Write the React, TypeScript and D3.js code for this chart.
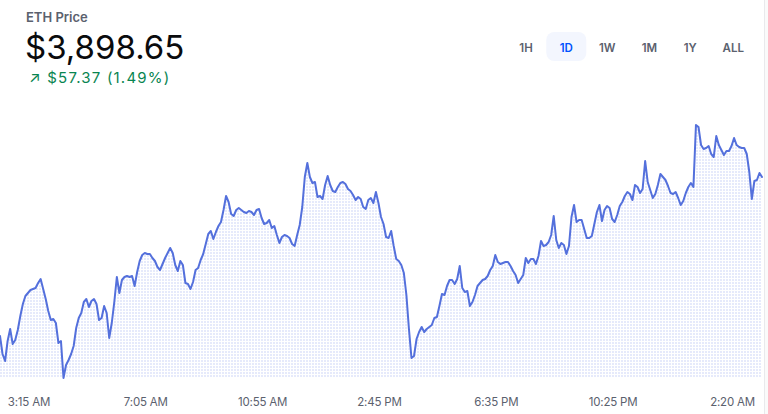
import React from 'react';
import * as d3 from 'd3';

// ---- data ----
const title = 'ETH Price';
const currentPrice = 3898.65;
const priceChange = 57.37;
const priceChangePct = 1.49;
const ranges = ['1H', '1D', '1W', '1M', '1Y', 'ALL'];
const activeRange = '1D';
const startTime = '2:18 AM';
const stepMinutes = 5;
const tickLabels = ['3:15 AM', '7:05 AM', '10:55 AM', '2:45 PM', '6:35 PM', '10:25 PM', '2:20 AM'];
const prices = [
  3819.15, 3810.15, 3806.65, 3816.65, 3822.65, 3815.15, 3817.15, 3822.15, 3829.15, 3835.15,
  3839.15, 3840.65, 3842.15, 3842.65, 3843.15, 3845.65, 3847.65, 3842.65, 3837.65, 3831.65,
  3827.15, 3827.65, 3825.65, 3815.65, 3816.65, 3798.15, 3804.65, 3807.15, 3810.15, 3814.15,
  3823.15, 3828.15, 3830.65, 3836.15, 3837.65, 3833.65, 3836.65, 3837.65, 3835.15, 3827.15,
  3828.15, 3834.15, 3830.65, 3818.15, 3825.65, 3836.15, 3848.65, 3840.65, 3847.15, 3848.65,
  3849.15, 3848.65, 3849.15, 3844.15, 3851.15, 3856.65, 3859.65, 3860.65, 3860.15, 3860.15,
  3858.15, 3856.65, 3853.65, 3852.15, 3855.15, 3858.15, 3860.65, 3863.15, 3860.65, 3854.65,
  3851.65, 3856.65, 3854.65, 3845.65, 3845.15, 3842.65, 3846.15, 3852.15, 3853.15, 3857.15,
  3860.15, 3865.15, 3870.15, 3871.65, 3867.65, 3871.15, 3874.15, 3876.15, 3882.15, 3889.15,
  3886.15, 3880.15, 3879.15, 3882.15, 3883.15, 3882.15, 3881.15, 3880.65, 3881.65, 3881.15,
  3879.65, 3882.15, 3882.65, 3878.15, 3875.15, 3875.65, 3877.15, 3873.15, 3874.15, 3869.65,
  3865.65, 3868.65, 3869.65, 3869.15, 3868.15, 3865.15, 3864.15, 3869.65, 3874.65, 3883.65,
  3898.65, 3905.65, 3898.65, 3895.65, 3896.15, 3888.65, 3889.15, 3887.65, 3894.65, 3899.15,
  3894.65, 3891.65, 3891.15, 3893.65, 3895.65, 3896.15, 3895.15, 3892.65, 3891.65, 3889.65,
  3887.15, 3888.65, 3887.65, 3883.65, 3882.65, 3887.15, 3888.15, 3885.65, 3891.15, 3885.65,
  3878.65, 3875.15, 3868.65, 3868.15, 3871.65, 3864.15, 3857.65, 3856.65, 3854.65, 3850.65,
  3839.65, 3822.65, 3808.15, 3809.15, 3817.65, 3821.15, 3823.65, 3821.15, 3822.65, 3823.65,
  3824.65, 3828.15, 3828.65, 3834.15, 3840.15, 3839.65, 3844.15, 3847.15, 3847.15, 3845.15,
  3847.65, 3854.15, 3843.15, 3841.15, 3841.65, 3834.15, 3836.15, 3839.65, 3844.15, 3845.65,
  3847.15, 3847.65, 3849.15, 3852.15, 3854.15, 3859.65, 3856.15, 3855.15, 3855.65, 3856.15,
  3856.15, 3854.15, 3851.65, 3849.65, 3845.65, 3847.65, 3849.65, 3858.15, 3855.65, 3857.65,
  3857.65, 3855.15, 3859.15, 3866.65, 3864.15, 3864.65, 3866.15, 3869.65, 3879.15, 3867.15,
  3863.15, 3865.65, 3864.65, 3860.15, 3864.15, 3878.65, 3884.65, 3876.15, 3877.15, 3877.15,
  3872.65, 3868.15, 3868.15, 3869.15, 3875.15, 3881.15, 3884.65, 3876.65, 3882.15, 3884.15,
  3883.15, 3877.65, 3876.15, 3879.65, 3884.15, 3886.15, 3889.15, 3891.15, 3890.15, 3887.15,
  3894.65, 3893.65, 3890.65, 3892.65, 3906.65, 3896.15, 3892.15, 3888.15, 3890.15, 3894.65,
  3900.15, 3898.65, 3897.15, 3894.15, 3890.65, 3890.15, 3891.15, 3888.15, 3884.65, 3886.65,
  3890.65, 3893.65, 3895.65, 3893.65, 3924.65, 3923.65, 3914.65, 3912.65, 3913.15, 3914.15,
  3910.15, 3908.65, 3919.15, 3914.65, 3912.15, 3909.65, 3911.65, 3911.65, 3914.15, 3918.15,
  3914.65, 3913.65, 3913.15, 3913.15, 3910.15, 3901.15, 3887.65, 3896.65, 3897.15, 3900.65,
  3898.65,
];

// ---- layout ----
const W = 768;
const H = 414;
const PLOT = { left: 0, right: 762, top: 125, bottom: 378 };
const BUTTON_X = [526, 566.3, 607.3, 649.5, 690.3, 733.3];
const FONT = 'Inter, "Noto Sans", sans-serif';

export default function App() {
  const parse = d3.timeParse('%I:%M %p');
  const start = parse(startTime) as Date;
  const times = prices.map((_, i) => d3.timeMinute.offset(start, i * stepMinutes));
  const end = times[times.length - 1];

  const x = d3.scaleTime().domain([start, end]).range([PLOT.left, PLOT.right]);
  const y = d3
    .scaleLinear()
    .domain(d3.extent(prices) as [number, number])
    .range([PLOT.bottom, PLOT.top]);

  const line = d3
    .line<number>()
    .x((_, i) => x(times[i]))
    .y((d) => y(d));
  const area = d3
    .area<number>()
    .x((_, i) => x(times[i]))
    .y0(PLOT.bottom)
    .y1((d) => y(d));

  // tick times run forward from the start; roll over midnight when needed
  let prev = start;
  const ticks = tickLabels.map((label) => {
    let t = parse(label) as Date;
    while (t <= prev) t = d3.timeDay.offset(t, 1);
    prev = t;
    return { label, t };
  });

  const fmtPrice = d3.format('$,.2f');

  return (
    <svg
      width={W}
      height={H}
      style={{ position: 'absolute', left: 0, top: 0, display: 'block', background: '#fff' }}
    >
      <defs>
        <pattern id="dots" width={3} height={3} patternUnits="userSpaceOnUse">
          <rect x={0} y={0} width={2} height={2} fill="#e6eafb" />
        </pattern>
      </defs>

      <text x={26} y={22} fontFamily={FONT} fontSize={13} fontWeight={600} fill="#5b616e">
        {title}
      </text>
      <text x={25} y={59} fontFamily={FONT} fontSize={33} fontWeight={400} fill="#0a0b0d">
        {fmtPrice(currentPrice)}
      </text>
      <text x={29} y={83} fontFamily={FONT} fontSize={15} fill="#098551" letterSpacing={1.2}>
        {`↗ ${fmtPrice(priceChange)} (${priceChangePct.toFixed(2)}%)`}
      </text>

      {ranges.map((r, i) => (
        <g key={r}>
          {r === activeRange && (
            <rect x={BUTTON_X[i] - 20} y={32} width={40} height={29} rx={8} fill="#f3f6fe" />
          )}
          <text
            x={BUTTON_X[i]}
            y={52}
            textAnchor="middle"
            fontFamily={FONT}
            fontSize={11.5}
            fontWeight={600}
            fill={r === activeRange ? '#0052ff' : '#5b616e'}
          >
            {r}
          </text>
        </g>
      ))}

      <path d={area(prices) ?? ''} fill="url(#dots)" />
      <path
        d={line(prices) ?? ''}
        fill="none"
        stroke="#5470dc"
        strokeWidth={2}
        strokeLinejoin="round"
        strokeLinecap="round"
      />

      {ticks.map((tk) => (
        <text
          key={tk.label}
          x={x(tk.t)}
          y={406}
          textAnchor="middle"
          fontFamily={FONT}
          fontSize={11.5}
          fill="#5b616e"
          letterSpacing={-0.2}
        >
          {tk.label}
        </text>
      ))}

      <rect x={764} y={0} width={4} height={H} fill="#fafafa" />
      <line x1={764.5} x2={764.5} y1={0} y2={H} stroke="#e9e9ec" />
    </svg>
  );
}
